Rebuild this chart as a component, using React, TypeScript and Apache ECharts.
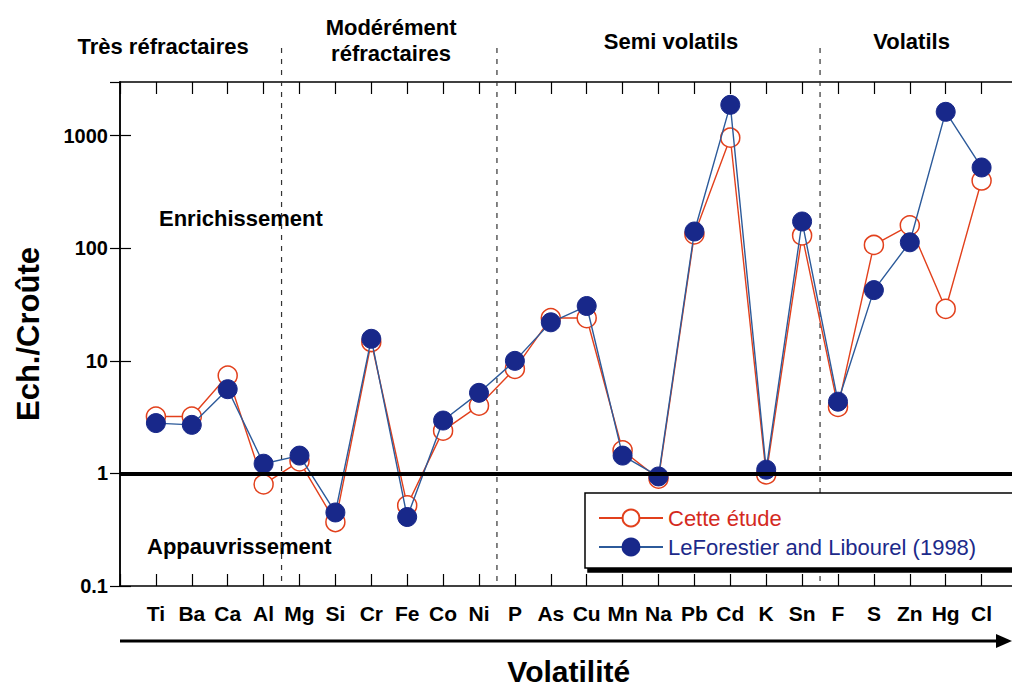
import React, { useEffect, useRef } from "react";
import * as echarts from "echarts";

const elements = ["Ti", "Ba", "Ca", "Al", "Mg", "Si", "Cr", "Fe", "Co", "Ni", "P", "As", "Cu", "Mn", "Na", "Pb", "Cd", "K", "Sn", "F", "S", "Zn", "Hg", "Cl"];
const cetteEtude = [3.2, 3.2, 7.4, 0.8, 1.28, 0.37, 14.7, 0.52, 2.4, 4.0, 8.5, 24, 24, 1.6, 0.9, 133, 960, 0.98, 130, 3.9, 107, 160, 29, 400];
const leForestier = [2.8, 2.7, 5.6, 1.22, 1.44, 0.45, 15.7, 0.41, 2.95, 5.2, 10, 22, 30.7, 1.44, 0.94, 141, 1880, 1.08, 173, 4.34, 42.5, 113, 1630, 522];
const groupNames = ["Très réfractaires", "Modérément\nréfractaires", "Semi volatils", "Volatils"];
const groupCenters = [1.2, 7.55, 15.35, 22.05];
const groupTops = [33, 14, 28, 28];
const groupBoundaries = [4.5, 10.5, 19.5];
const seriesNames = ["Cette étude", "LeForestier and Libourel (1998)"];

const FONT = "'Liberation Sans', Arial, Helvetica, sans-serif";
const RED = "#e2401c";
const BLUE_LINE = "#2c5a9a";
const BLUE_MARK = "#18288a";

export default function App() {
  const ref = useRef<HTMLDivElement>(null);
  useEffect(() => {
    if (!ref.current) return;
    const chart = echarts.init(ref.current, undefined, { renderer: "svg", width: 1030, height: 688 });
    const xMin = 0;
    const xMax = elements.length + 1;
    const option: any = {
      animation: false,
      backgroundColor: "#fff",
      textStyle: { fontFamily: FONT },
      grid: { left: 120, top: 82, width: 897.5, height: 504, containLabel: false, outerBoundsMode: "none" },
      legend: {
        orient: "vertical",
        left: 585,
        top: 493,
        itemWidth: 64,
        itemHeight: 21,
        itemGap: 7,
        padding: [14, 60, 10, 13],
        backgroundColor: "#fff",
        borderColor: "#000",
        borderWidth: 1.5,
        shadowColor: "#000",
        shadowOffsetX: 3,
        shadowOffsetY: 4,
        shadowBlur: 0,
        textStyle: { fontSize: 22, fontFamily: FONT },
        data: [
          { name: seriesNames[0], textStyle: { color: "#d42a1e" } },
          { name: seriesNames[1], textStyle: { color: "#1c2a8a" } },
        ],
      },
      xAxis: [
        {
          type: "value",
          position: "bottom",
          min: xMin,
          max: xMax,
          interval: 1,
          splitLine: { show: false },
          axisLine: { lineStyle: { color: "#000", width: 1.5 } },
          axisTick: { inside: true, length: 12, lineStyle: { color: "#000", width: 1.2 } },
          axisLabel: {
            margin: 17,
            fontSize: 21,
            fontWeight: "bold",
            color: "#000",
            fontFamily: FONT,
            formatter: (v: number) => elements[Math.round(v) - 1] ?? "",
          },
          name: "Volatilité",
          nameLocation: "middle",
          nameGap: 70,
          nameTextStyle: { fontSize: 30, fontWeight: "bold", color: "#000", fontFamily: FONT },
        },
        {
          type: "value",
          position: "top",
          min: xMin,
          max: xMax,
          interval: 1,
          splitLine: { show: false },
          axisLine: { lineStyle: { color: "#000", width: 1.5 } },
          axisTick: { inside: true, length: 12, lineStyle: { color: "#000", width: 1.2 } },
          axisLabel: { show: false },
        },
      ],
      yAxis: [
        {
          type: "log",
          logBase: 10,
          min: 0.1,
          max: 3000,
          position: "left",
          splitLine: { show: false },
          axisLine: { lineStyle: { color: "#000", width: 1.5 } },
          axisTick: { inside: true, length: 11, lineStyle: { color: "#000", width: 1.2 } },
          axisLabel: {
            showMaxLabel: false,
            margin: 12,
            fontSize: 20,
            fontWeight: "bold",
            color: "#000",
            fontFamily: FONT,
            formatter: (v: number) => (v >= 1 ? String(Math.round(v)) : String(+v.toPrecision(1))),
          },
          name: "Ech./Croûte",
          nameLocation: "middle",
          nameGap: 76,
          nameTextStyle: { fontSize: 31, fontWeight: "bold", color: "#000", fontFamily: FONT },
        },
        {
          type: "log",
          logBase: 10,
          min: 0.1,
          max: 3000,
          position: "right",
          splitLine: { show: false },
          axisLine: { lineStyle: { color: "#000", width: 1.5 } },
          axisTick: { inside: true, length: 10, lineStyle: { color: "#000", width: 1.2 } },
          axisLabel: { show: false },
        },
      ],
      series: [
        {
          name: seriesNames[0],
          type: "line",
          xAxisIndex: 0,
          yAxisIndex: 0,
          z: 3,
          symbol: "circle",
          symbolSize: 19,
          itemStyle: { color: "#fff", borderColor: RED, borderWidth: 1.5 },
          lineStyle: { color: RED, width: 1.4 },
          data: cetteEtude.map((v, i) => [i + 1, v]),
          markLine: {
            silent: true,
            symbol: ["none", "none"],
            label: { show: false },
            lineStyle: { color: "#000", width: 4, type: "solid" },
            data: [{ yAxis: 1 }],
          },
        },
        {
          name: seriesNames[1],
          type: "line",
          xAxisIndex: 0,
          yAxisIndex: 0,
          z: 4,
          symbol: "circle",
          symbolSize: 19,
          itemStyle: { color: BLUE_MARK, borderColor: BLUE_MARK, borderWidth: 1 },
          lineStyle: { color: BLUE_LINE, width: 1.4 },
          data: leForestier.map((v, i) => [i + 1, v]),
        },
      ],
    };
    chart.setOption(option);

    const gridBottom = chart.convertToPixel({ yAxisIndex: 0 }, 0.1) as number;
    const graphics: any[] = [];
    groupBoundaries.forEach((b) => {
      const px = chart.convertToPixel({ xAxisIndex: 0 }, b) as number;
      graphics.push({
        type: "line",
        z: 1,
        silent: true,
        shape: { x1: px, y1: 48, x2: px, y2: gridBottom },
        style: { stroke: "#333", lineWidth: 1.2, lineDash: [5, 6] },
      });
    });
    groupNames.forEach((name, i) => {
      const px = chart.convertToPixel({ xAxisIndex: 0 }, groupCenters[i]) as number;
      graphics.push({
        type: "text",
        silent: true,
        x: px,
        y: groupTops[i],
        style: {
          text: name,
          fill: "#000",
          font: `bold 22px ${FONT}`,
          align: "center",
          verticalAlign: "top",
          lineHeight: 26,
        },
      });
    });
    graphics.push(
      {
        type: "text",
        silent: true,
        x: 159,
        y: 207,
        style: { text: "Enrichissement", fill: "#000", font: `bold 22px ${FONT}`, align: "left", verticalAlign: "top" },
      },
      {
        type: "text",
        silent: true,
        x: 147,
        y: 535,
        style: { text: "Appauvrissement", fill: "#000", font: `bold 22px ${FONT}`, align: "left", verticalAlign: "top" },
      },
      {
        type: "line",
        silent: true,
        shape: { x1: 120, y1: 641, x2: 1000, y2: 641 },
        style: { stroke: "#000", lineWidth: 3 },
      },
      {
        type: "polygon",
        silent: true,
        shape: { points: [[996, 634], [1012, 641], [996, 648]] },
        style: { fill: "#000" },
      }
    );
    chart.setOption({ graphic: graphics });

    return () => chart.dispose();
  }, []);

  return (
    <div style={{ position: "fixed", left: 0, top: 0, width: 1012, height: 688, overflow: "hidden", background: "#fff" }}>
      <div ref={ref} style={{ width: 1030, height: 688 }} />
    </div>
  );
}
